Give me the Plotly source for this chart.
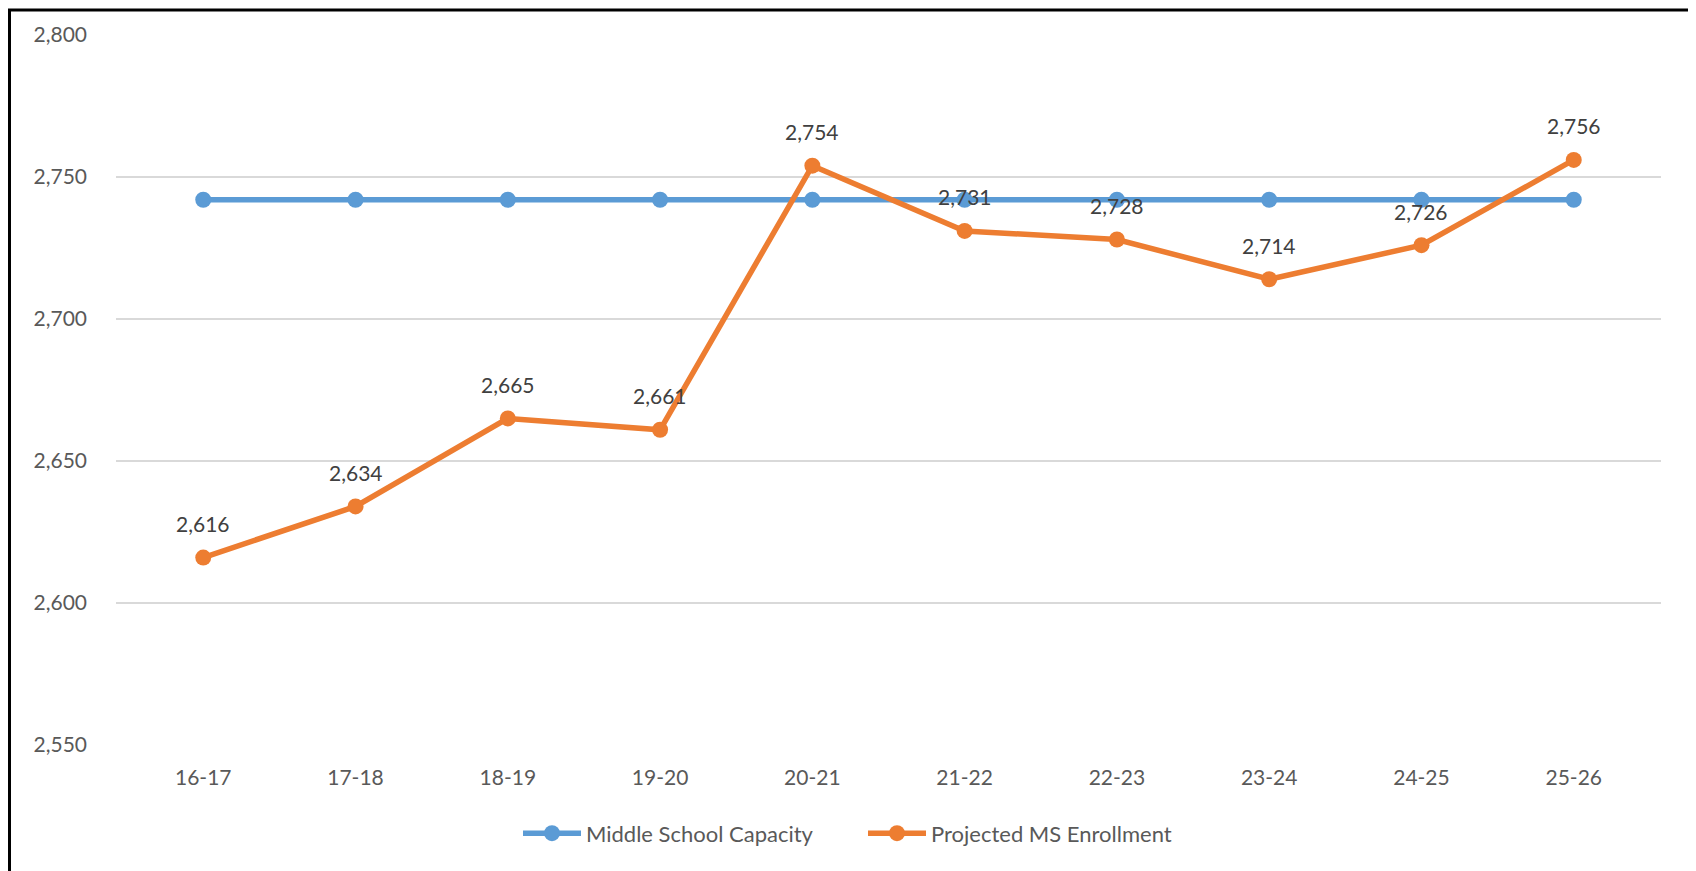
import plotly.graph_objects as go

years = ["16-17", "17-18", "18-19", "19-20", "20-21", "21-22", "22-23", "23-24", "24-25", "25-26"]
capacity = [2742, 2742, 2742, 2742, 2742, 2742, 2742, 2742, 2742, 2742]
enrollment = [2616, 2634, 2665, 2661, 2754, 2731, 2728, 2714, 2726, 2756]
y_ticks = [2550, 2600, 2650, 2700, 2750, 2800]

FONT = "Lato"
BLUE = "#5B9BD5"
ORANGE = "#ED7D31"

fig = go.Figure()
fig.add_trace(go.Scatter(
    x=years, y=capacity, mode="lines+markers", name="Middle School Capacity",
    line=dict(color=BLUE, width=5.5), marker=dict(color=BLUE, size=16),
))
fig.add_trace(go.Scatter(
    x=years, y=enrollment, mode="lines+markers", name="Projected MS Enrollment",
    line=dict(color=ORANGE, width=5.5), marker=dict(color=ORANGE, size=16),
))

for xv, yv in zip(years, enrollment):
    fig.add_annotation(x=xv, y=yv, text=f"{yv:,}", showarrow=False, yshift=34,
                       font=dict(family=FONT, size=21, color="#404040"))

OFF = 8  # page body margin
W, H = 1688, 863
L = 116 - OFF
T = 34.5 - OFF
R = W - (1661 - OFF)
B = H - (745.5 - OFF)
pw, ph = W - L - R, H - T - B

def px_x(p):
    return (p - OFF - L) / pw

def px_y(p):
    return (H - B - (p - OFF)) / ph

fig.add_shape(type="rect", xref="paper", yref="paper",
              x0=px_x(9.5), x1=px_x(1691), y0=px_y(885), y1=px_y(9.5),
              line=dict(color="black", width=3), fillcolor="rgba(0,0,0,0)", layer="above")

fig.update_layout(
    width=W, height=H,
    margin=dict(l=L, r=R, t=T, b=B, pad=0),
    paper_bgcolor="white", plot_bgcolor="white",
    font=dict(family=FONT, size=21, color="#595959"),
    showlegend=True,
    legend=dict(orientation="h", x=px_x(518), y=px_y(834), xanchor="left", yanchor="middle",
                font=dict(family=FONT, size=22, color="#595959"), itemwidth=58,
                entrywidth=272, entrywidthmode="pixels",
                bgcolor="rgba(0,0,0,0)"),
    xaxis=dict(showgrid=False, showline=False, zeroline=False, ticks="",
               ticklabelstandoff=18, tickfont=dict(family=FONT, size=21, color="#595959")),
    yaxis=dict(range=[2550, 2800], tickvals=y_ticks, tickformat=",", showgrid=True,
               gridcolor="#D9D9D9", gridwidth=2, zeroline=False, showline=False, ticks="",
               ticklabelstandoff=28, tickfont=dict(family=FONT, size=21, color="#595959")),
)

fig.write_html("out.html")
